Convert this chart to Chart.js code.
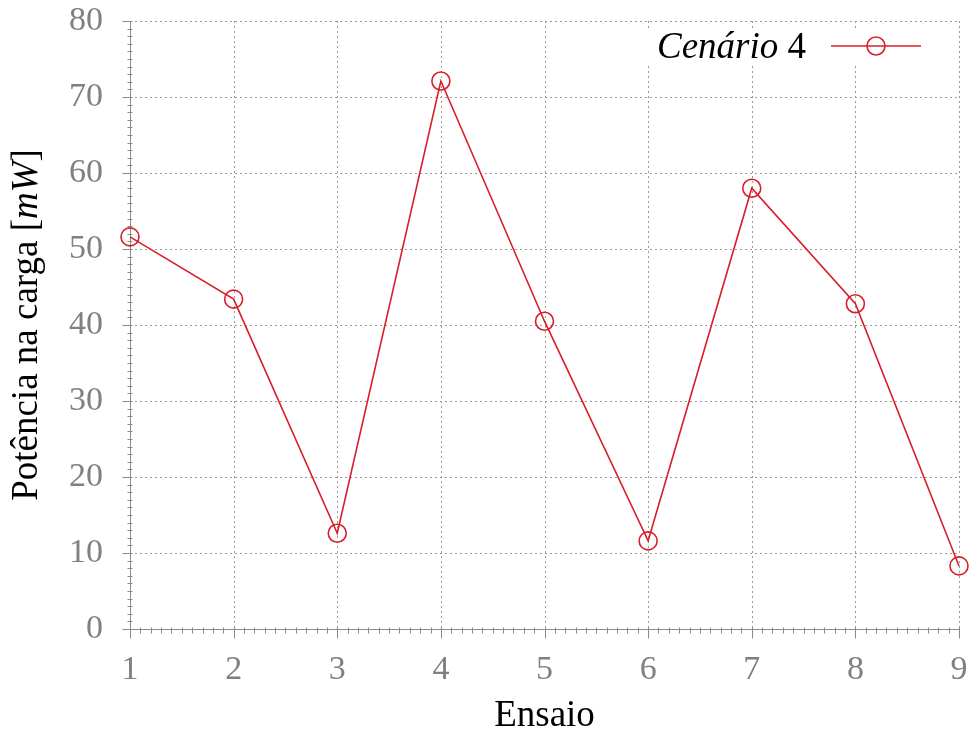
<!DOCTYPE html>
<html>
<head>
<meta charset="utf-8">
<script src="https://cdn.jsdelivr.net/npm/chart.js@4/dist/chart.umd.min.js"></script>
<style>
  html, body { margin: 0; padding: 0; background: #ffffff; }
  #wrap { width: 970px; height: 733px; }
</style>
</head>
<body>
<div id="wrap"><canvas id="chart" width="970" height="733"></canvas></div>
<script>
// Ensaios (trials) and measured load power in mW
const trials = [1, 2, 3, 4, 5, 6, 7, 8, 9];
const power = [51.6, 43.4, 12.6, 72.1, 40.5, 11.6, 58.0, 42.8, 8.3];
const seriesName = 'Cenário';
const seriesNumber = '4';
const xTitle = 'Ensaio';
const yTitleParts = [
  { text: 'Potência na carga [', italic: false },
  { text: 'mW', italic: true },
  { text: ']', italic: false }
];

const RED = '#d81e2a';
const AXIS_GRAY = '#8a8a8a';
const GRID_GRAY = '#9a9a9a';
const SERIF = '"Liberation Serif", "DejaVu Serif", serif';
const TITLE_SIZE = 37;

// Dotted grid, axis lines and major/minor tick marks drawn from the scales
const axesDecor = {
  id: 'axesDecor',
  beforeDatasetsDraw(chart) {
    const { ctx, chartArea: a, scales: { x, y } } = chart;
    ctx.save();
    ctx.lineWidth = 1;
    ctx.strokeStyle = GRID_GRAY;
    ctx.setLineDash([2, 3]);
    for (let v = 2; v <= 9; v++) {
      const px = Math.round(x.getPixelForValue(v)) + 0.5;
      ctx.beginPath(); ctx.moveTo(px, a.top); ctx.lineTo(px, a.bottom); ctx.stroke();
    }
    for (let v = 10; v <= 80; v += 10) {
      const py = Math.round(y.getPixelForValue(v)) + 0.5;
      ctx.beginPath(); ctx.moveTo(a.left, py); ctx.lineTo(a.right, py); ctx.stroke();
    }
    ctx.setLineDash([]);
    ctx.strokeStyle = AXIS_GRAY;
    const ax = Math.round(a.left) + 0.5;
    const ay = Math.round(a.bottom) + 0.5;
    ctx.beginPath(); ctx.moveTo(ax, a.top); ctx.lineTo(ax, a.bottom); ctx.stroke();
    ctx.beginPath(); ctx.moveTo(a.left, ay); ctx.lineTo(a.right, ay); ctx.stroke();
    // y ticks: majors every 10, minors every 1
    for (let v = 0; v <= 80; v++) {
      const py = Math.round(y.getPixelForValue(v)) + 0.5;
      const major = v % 10 === 0;
      ctx.beginPath();
      ctx.moveTo(ax - (major ? 8 : 3), py);
      ctx.lineTo(ax + 2, py);
      ctx.stroke();
    }
    // x ticks: majors every 1, minors every 0.1
    for (let i = 0; i <= 80; i++) {
      const v = 1 + i / 10;
      const px = Math.round(x.getPixelForValue(v)) + 0.5;
      const major = i % 10 === 0;
      ctx.beginPath();
      ctx.moveTo(px, ay - 2);
      ctx.lineTo(px, ay + (major ? 9 : 4));
      ctx.stroke();
    }
    ctx.restore();
  },
  afterDatasetsDraw(chart) {
    const { ctx, chartArea: a } = chart;
    const ds = chart.data.datasets[0];
    ctx.save();
    // legend box (upper right)
    const bx = a.right - 314, by = a.top + 7, bw = 290, bh = 36;
    ctx.fillStyle = '#ffffff';
    ctx.fillRect(bx, by, bw, bh);
    ctx.fillStyle = '#000000';
    ctx.textBaseline = 'middle';
    ctx.textAlign = 'left';
    const ly = by + bh / 2 + 2;
    let tx = bx + 12;
    ctx.font = 'italic ' + TITLE_SIZE + 'px ' + SERIF;
    ctx.fillText(ds.label, tx, ly);
    tx += ctx.measureText(ds.label + ' ').width;
    ctx.font = TITLE_SIZE + 'px ' + SERIF;
    ctx.fillText(seriesNumber, tx, ly);
    const lx0 = a.right - 128, lx1 = a.right - 38, lcy = ly - 2;
    ctx.strokeStyle = ds.borderColor;
    ctx.lineWidth = ds.borderWidth;
    ctx.beginPath(); ctx.moveTo(lx0, lcy); ctx.lineTo(lx1, lcy); ctx.stroke();
    ctx.lineWidth = ds.pointBorderWidth;
    ctx.beginPath(); ctx.arc((lx0 + lx1) / 2, lcy, ds.pointRadius, 0, Math.PI * 2); ctx.stroke();

    // axis titles
    ctx.fillStyle = '#000000';
    ctx.font = TITLE_SIZE + 'px ' + SERIF;
    ctx.textAlign = 'center';
    ctx.fillText(xTitle, (a.left + a.right) / 2, 716);

    // y title with mixed upright/italic runs, rotated
    const widths = yTitleParts.map(p => {
      ctx.font = (p.italic ? 'italic ' : '') + TITLE_SIZE + 'px ' + SERIF;
      return ctx.measureText(p.text).width;
    });
    const total = widths.reduce((s, w) => s + w, 0);
    ctx.translate(27, (a.top + a.bottom) / 2);
    ctx.rotate(-Math.PI / 2);
    ctx.textAlign = 'left';
    let cx = -total / 2;
    yTitleParts.forEach((p, i) => {
      ctx.font = (p.italic ? 'italic ' : '') + TITLE_SIZE + 'px ' + SERIF;
      ctx.fillText(p.text, cx, 0);
      cx += widths[i];
    });
    ctx.restore();
  }
};

const points = trials.map((t, i) => ({ x: t, y: power[i] }));

function noPadding(scale) {
  scale.paddingTop = 0;
  scale.paddingBottom = 0;
  scale.paddingLeft = 0;
  scale.paddingRight = 0;
}

new Chart(document.getElementById('chart'), {
  type: 'line',
  data: {
    datasets: [{
      label: seriesName,
      data: points,
      borderColor: RED,
      borderWidth: 1.6,
      backgroundColor: 'rgba(0,0,0,0)',
      pointRadius: 9,
      pointHoverRadius: 9,
      pointBorderWidth: 1.6,
      pointBorderColor: RED,
      pointBackgroundColor: 'rgba(0,0,0,0)',
      tension: 0,
      clip: false
    }]
  },
  options: {
    responsive: false,
    animation: false,
    events: [],
    layout: { padding: { top: 21, right: 11, left: 0, bottom: 0 } },
    plugins: { legend: { display: false }, tooltip: { enabled: false } },
    scales: {
      x: {
        type: 'linear',
        min: 1, max: 9,
        grid: { display: false, drawTicks: false },
        border: { display: false },
        ticks: {
          stepSize: 1,
          padding: 21,
          color: '#808080',
          font: { family: SERIF, size: 34 },
          maxRotation: 0
        },
        afterFit(scale) { scale.height = 104; noPadding(scale); }
      },
      y: {
        min: 0, max: 80,
        grid: { display: false, drawTicks: false },
        border: { display: false },
        ticks: {
          stepSize: 10,
          padding: 27,
          color: '#808080',
          font: { family: SERIF, size: 34 }
        },
        afterFit(scale) { scale.width = 130; noPadding(scale); }
      }
    }
  },
  plugins: [axesDecor]
});
</script>
</body>
</html>
